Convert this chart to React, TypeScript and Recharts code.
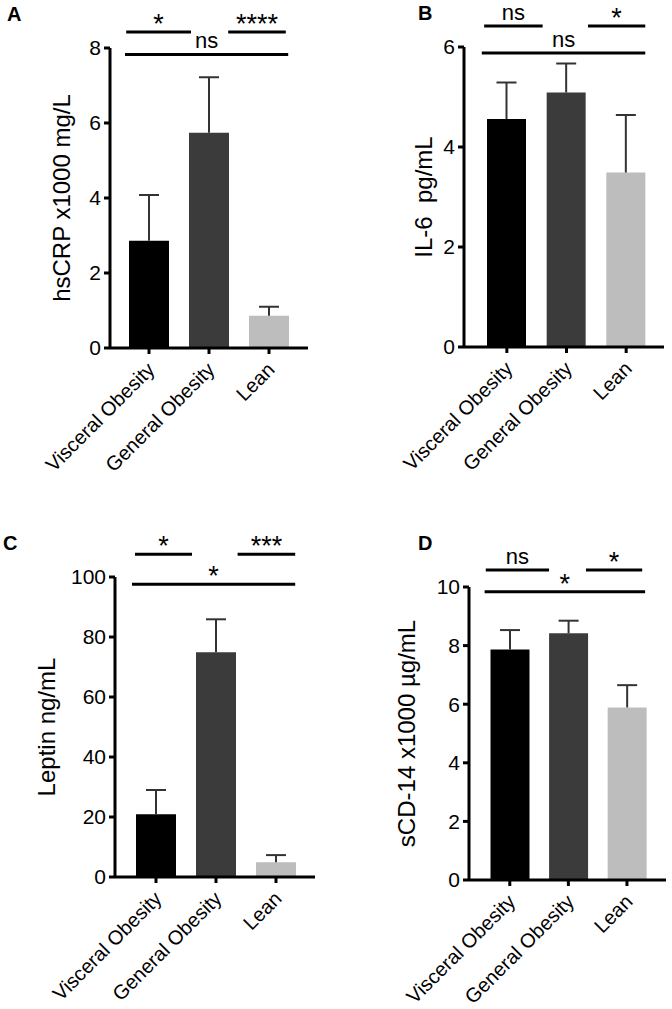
import React from 'react';
import { BarChart, Bar, XAxis, YAxis, Cell, ReferenceLine } from 'recharts';

const FONT = '"Liberation Sans", Arial, Helvetica, sans-serif';

// ---------- data ----------
const categories = ['Visceral Obesity', 'General Obesity', 'Lean'];
const barColors = ['#000000', '#3b3b3b', '#bdbdbd'];

// Panel A
const hsCRPMean = [2.86, 5.74, 0.86];
const hsCRPSem = [1.22, 1.48, 0.24];
const hsCRPTicks = [0, 2, 4, 6, 8];
const hsCRPSig = ['*', '****', 'ns']; // VO vs GO, GO vs Lean, VO vs Lean

// Panel B
const il6Mean = [4.56, 5.09, 3.49];
const il6Sem = [0.73, 0.58, 1.15];
const il6Ticks = [0, 2, 4, 6];
const il6Sig = ['ns', '*', 'ns'];

// Panel C
const leptinMean = [20.9, 74.9, 4.9];
const leptinSem = [8.1, 11.0, 2.4];
const leptinTicks = [0, 20, 40, 60, 80, 100];
const leptinSig = ['*', '***', '*'];

// Panel D
const sCD14Mean = [7.87, 8.42, 5.89];
const sCD14Sem = [0.66, 0.43, 0.76];
const sCD14Ticks = [0, 2, 4, 6, 8, 10];
const sCD14Sig = ['ns', '*', '*'];

// ---------- layout ----------
type PanelCfg = {
  letter: string;
  letterX: number;
  letterY: number;
  left: number;
  top: number;
  width: number;
  height: number;
  margin: { top: number; right: number; left: number; bottom: number };
  yAxisWidth: number;
  xAxisHeight: number;
  padding: { left: number; right: number };
  barSize: number;
  yLabel: string;
  means: number[];
  sems: number[];
  ticks: number[];
  sig: string[];
  sigUpper: number;
  sigLower: number;
  segs: number[][]; // [left pair], [right pair], [long]
};

const panels: PanelCfg[] = [
  {
    letter: 'A', letterX: 7, letterY: 21,
    left: 0, top: 0, width: 336, height: 480,
    margin: { top: 48, right: 28, left: 12, bottom: 12 },
    yAxisWidth: 98, xAxisHeight: 120,
    padding: { left: 9, right: 9 }, barSize: 40,
    yLabel: 'hsCRP x1000 mg/L',
    means: hsCRPMean, sems: hsCRPSem, ticks: hsCRPTicks, sig: hsCRPSig,
    sigUpper: 8.43, sigLower: 7.83,
    segs: [[0.12, 1.2], [1.82, 2.78], [0.1, 2.82]],
  },
  {
    letter: 'B', letterX: 418, letterY: 20,
    left: 336, top: 0, width: 336, height: 480,
    margin: { top: 47, right: 8, left: 46, bottom: 13 },
    yAxisWidth: 82, xAxisHeight: 120,
    padding: { left: 13, right: 8 }, barSize: 39,
    yLabel: 'IL-6\u00a0 pg/mL',
    means: il6Mean, sems: il6Sem, ticks: il6Ticks, sig: il6Sig,
    sigUpper: 6.42, sigLower: 5.88,
    segs: [[0.12, 1.1], [1.86, 2.82], [0.08, 2.82]],
  },
  {
    letter: 'C', letterX: 3, letterY: 550,
    left: -30, top: 500, width: 366, height: 509,
    margin: { top: 77, right: 21, left: 7, bottom: 22 },
    yAxisWidth: 138, xAxisHeight: 110,
    padding: { left: 11, right: 9 }, barSize: 40,
    yLabel: 'Leptin ng/mL',
    means: leptinMean, sems: leptinSem, ticks: leptinTicks, sig: leptinSig,
    sigUpper: 107.6, sigLower: 97.6,
    segs: [[0.15, 1.1], [1.86, 2.82], [0.1, 2.82]],
  },
  {
    letter: 'D', letterX: 418, letterY: 550,
    left: 336, top: 500, width: 336, height: 509,
    margin: { top: 87, right: 6, left: 7, bottom: 19 },
    yAxisWidth: 126, xAxisHeight: 110,
    padding: { left: 11.5, right: 9.75 }, barSize: 39,
    yLabel: 'sCD-14 x1000 \u00b5g/mL',
    means: sCD14Mean, sems: sCD14Sem, ticks: sCD14Ticks, sig: sCD14Sig,
    sigUpper: 10.58, sigLower: 9.84,
    segs: [[0.09, 1.17], [1.8, 2.76], [0.07, 2.81]],
  },
];

const CatTick = ({ x, y, payload }: any) => (
  <g transform={`translate(${x - 3},${y + 5})`}>
    <text
      x={0}
      y={0}
      dy="0.7em"
      textAnchor="end"
      transform="rotate(-45)"
      fontSize={20}
      fill="#000"
      fontFamily={FONT}
    >
      {payload.value}
    </text>
  </g>
);

// upper-only error whisker drawn on a stacked bar segment of height = SEM
const Whisker = (props: any) => {
  const { x, y, width, height } = props;
  if (x == null || y == null || !isFinite(y) || !isFinite(height)) return null;
  const cx = x + width / 2;
  return (
    <g>
      <line x1={cx} y1={y + height} x2={cx} y2={y} stroke="#333" strokeWidth={2} />
      <line x1={cx - 10} y1={y} x2={cx + 10} y2={y} stroke="#333" strokeWidth={2} />
    </g>
  );
};

function sigLabel(text: string) {
  const isStar = text.indexOf('*') >= 0;
  return {
    value: text,
    position: 'top' as const,
    offset: isStar ? -1 : 6,
    fill: '#000',
    fontSize: isStar ? 27 : 22,
    fontFamily: FONT,
  };
}

function Panel({ cfg }: { cfg: PanelCfg }) {
  const rows = categories.map((c, i) => ({
    name: c,
    pos: i + 0.5,
    value: cfg.means[i],
    sem: cfg.sems[i],
  }));
  const max = cfg.ticks[cfg.ticks.length - 1];
  const levels = [cfg.sigUpper, cfg.sigUpper, cfg.sigLower];
  return (
    <div style={{ position: 'absolute', left: cfg.left, top: cfg.top }}>
      <BarChart
        width={cfg.width}
        height={cfg.height}
        data={rows}
        margin={cfg.margin}
        style={{ fontFamily: FONT }}
      >
        <XAxis
          dataKey="name"
          height={cfg.xAxisHeight}
          padding={cfg.padding}
          axisLine={{ stroke: '#000', strokeWidth: 3 }}
          tickLine={{ stroke: '#000', strokeWidth: 3 }}
          tickSize={6}
          interval={0}
          tick={<CatTick />}
        />
        <XAxis
          xAxisId="n"
          dataKey="pos"
          type="number"
          domain={[0, 3]}
          allowDataOverflow
          hide
          padding={cfg.padding}
        />
        <YAxis
          width={cfg.yAxisWidth}
          domain={[0, max]}
          ticks={cfg.ticks}
          interval={0}
          axisLine={{ stroke: '#000', strokeWidth: 3 }}
          tickLine={{ stroke: '#000', strokeWidth: 3 }}
          tickSize={6}
          tickMargin={3}
          tick={{ fill: '#000', fontSize: 21, fontFamily: FONT }}
          label={{
            value: cfg.yLabel,
            angle: -90,
            position: 'center',
            fill: '#000',
            fontSize: 24,
            fontFamily: FONT,
          }}
        />
        <Bar dataKey="value" stackId="s" barSize={cfg.barSize} isAnimationActive={false}>
          {rows.map((r, i) => (
            <Cell key={r.name} fill={barColors[i]} />
          ))}
        </Bar>
        <Bar
          dataKey="sem"
          stackId="s"
          barSize={cfg.barSize}
          isAnimationActive={false}
          shape={<Whisker />}
        />
        {cfg.sig.map((s, i) => (
          <ReferenceLine
            key={i}
            xAxisId="n"
            ifOverflow="visible"
            segment={[
              { x: cfg.segs[i][0], y: levels[i] },
              { x: cfg.segs[i][1], y: levels[i] },
            ]}
            stroke="#000"
            strokeWidth={3}
            label={sigLabel(s)}
          />
        ))}
      </BarChart>
    </div>
  );
}

export default function App() {
  return (
    <div
      style={{
        position: 'absolute',
        left: 0,
        top: 0,
        width: 672,
        height: 1009,
        background: '#fff',
        overflow: 'hidden',
        fontFamily: FONT,
      }}
    >
      {panels.map((p) => (
        <Panel key={p.letter} cfg={p} />
      ))}
      <svg
        width={672}
        height={1009}
        style={{ position: 'absolute', left: 0, top: 0, pointerEvents: 'none' }}
      >
        {panels.map((p) => (
          <text
            key={p.letter}
            x={p.letterX}
            y={p.letterY}
            fontSize={20}
            fontWeight="bold"
            fill="#000"
            fontFamily={FONT}
          >
            {p.letter}
          </text>
        ))}
      </svg>
    </div>
  );
}
